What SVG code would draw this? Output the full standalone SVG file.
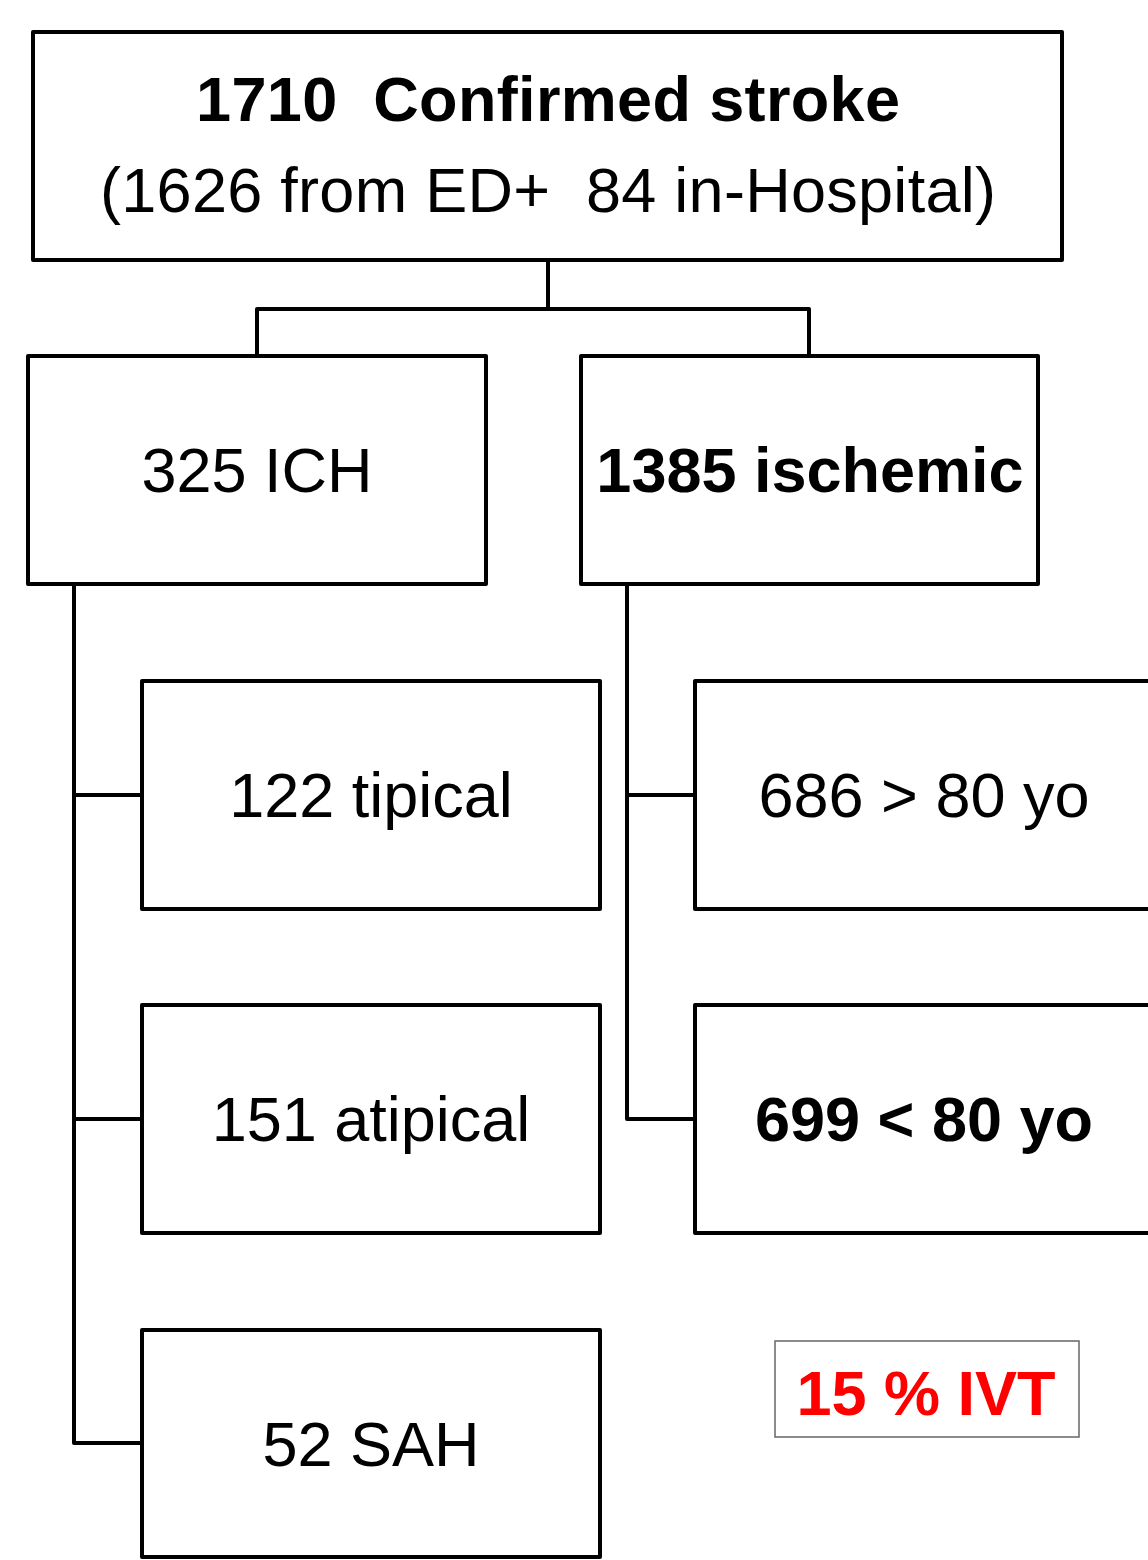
<svg xmlns="http://www.w3.org/2000/svg" width="1148" height="1560" viewBox="0 0 1148 1560">
<style>
.box{fill:#fff;stroke:#000;stroke-width:4;stroke-linejoin:round}
.ln{fill:none;stroke:#000;stroke-width:4;stroke-linejoin:round;stroke-linecap:square}
.t{font-family:"Liberation Sans",Arial,sans-serif;font-size:63px;text-anchor:middle;fill:#000;white-space:pre}
.b{font-weight:bold}
</style>
<rect width="1148" height="1560" fill="#fff"/>
<g id="connectors">
<path class="ln" d="M548 260 V309 M257 356 V309 H809 V356"/>
<path class="ln" d="M74 584 V1443 H142 M74 795 H142 M74 1119 H142"/>
<path class="ln" d="M627 584 V1119 H695 M627 795 H695"/>
</g>
<g id="n-total">
<rect class="box" x="33" y="32" width="1029" height="228"/>
<text class="t b" x="548" y="121" font-size="64" xml:space="preserve" textLength="704">1710  Confirmed stroke</text>
<text class="t" x="548" y="212" font-size="64" xml:space="preserve" textLength="896">(1626 from ED+  84 in-Hospital)</text>
</g>
<g id="n-ich">
<rect class="box" x="28" y="356" width="458" height="228"/>
<text class="t" x="257" y="492">325 ICH</text>
</g>
<g id="n-ischemic">
<rect class="box" x="581" y="356" width="457" height="228"/>
<text class="t b" x="810" y="492">1385 ischemic</text>
</g>
<g id="n-tipical">
<rect class="box" x="142" y="681" width="458" height="228"/>
<text class="t" x="371" y="817">122 tipical</text>
</g>
<g id="n-atipical">
<rect class="box" x="142" y="1005" width="458" height="228"/>
<text class="t" x="371" y="1141">151 atipical</text>
</g>
<g id="n-sah">
<rect class="box" x="142" y="1330" width="458" height="227"/>
<text class="t" x="371" y="1466">52 SAH</text>
</g>
<g id="n-over80">
<rect class="box" x="695" y="681" width="458" height="228"/>
<text class="t" x="924" y="817">686 &gt; 80 yo</text>
</g>
<g id="n-under80">
<rect class="box" x="695" y="1005" width="458" height="228"/>
<text class="t b" x="924" y="1141">699 &lt; 80 yo</text>
</g>
<g id="n-ivt">
<rect x="775" y="1341" width="304" height="96" fill="#fff" stroke="#666" stroke-width="1.5"/>
<text class="t b" x="926" y="1415" style="fill:#ff0000">15 % IVT</text>
</g>
</svg>
